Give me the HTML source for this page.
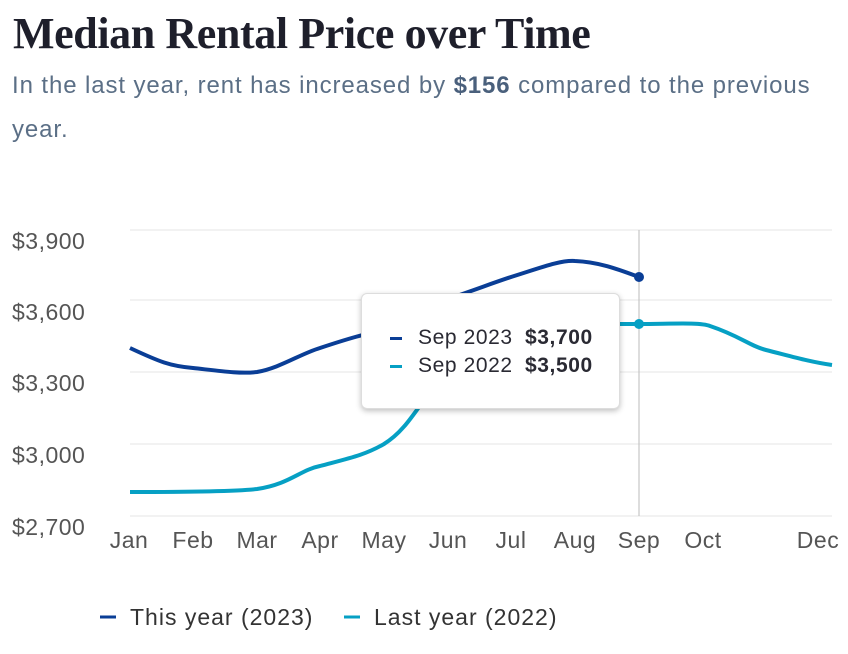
<!DOCTYPE html>
<html><head><style>
body{margin:0;background:#fff;width:848px;height:654px;overflow:hidden;font-family:"Liberation Sans",sans-serif;position:relative}
h1{position:absolute;left:13px;top:8px;margin:0;font-family:"Liberation Serif",serif;font-weight:bold;font-size:44px;color:#1e1f2b;letter-spacing:-0.4px}
.sub{position:absolute;left:12px;top:64px;font-size:24px;line-height:44px;color:#5b6f86;letter-spacing:0.9px;white-space:nowrap}
.sub b{color:#4a607c}
.tip{position:absolute;left:361px;top:293px;width:257px;height:114px;background:#fff;border:1px solid #ddd;border-radius:6px;box-shadow:0 2px 6px rgba(0,0,0,.25);font-size:21px;color:#2a2a33;letter-spacing:0.6px}
.row{position:absolute;left:28px;display:flex;align-items:center}
.row i{display:inline-block;width:12px;height:3px;margin-right:16px}
.row span{width:107px}
</style></head><body>
<h1>Median Rental Price over Time</h1>
<div class="sub">In the last year, rent has increased by <b>$156</b> compared to the previous<br>year.</div>
<svg width="848" height="654" style="position:absolute;left:0;top:0">
<g stroke="#e6e6e6" stroke-width="1">
<line x1="130" x2="832" y1="230" y2="230"/><line x1="130" x2="832" y1="300" y2="300"/><line x1="130" x2="832" y1="372" y2="372"/><line x1="130" x2="832" y1="444" y2="444"/><line x1="130" x2="832" y1="516" y2="516"/>
</g>
<line x1="639" x2="639" y1="230" y2="516" stroke="#bbb"/>
<g font-size="23" fill="#555" font-family="Liberation Sans,sans-serif" letter-spacing="0.5">
<text x="12" y="249">$3,900</text><text x="12" y="320">$3,600</text><text x="12" y="391">$3,300</text><text x="12" y="463">$3,000</text><text x="12" y="535">$2,700</text>
<g text-anchor="middle"><text x="129" y="548">Jan</text><text x="193" y="548">Feb</text><text x="257" y="548">Mar</text><text x="320" y="548">Apr</text><text x="384" y="548">May</text><text x="448" y="548">Jun</text><text x="511" y="548">Jul</text><text x="575" y="548">Aug</text><text x="639" y="548">Sep</text><text x="703" y="548">Oct</text><text x="818" y="548">Dec</text></g>
</g>
<path d="M130,492 C160,492 230,492 257,489 C290,484 300,470 320,466 C350,458 365,455 384,444 C410,428 420,400 448,370 C480,340 520,326 575,324 L639,324 C670,324 700,322 710,326 C740,336 750,346 766,350 C790,356 810,362 832,365" fill="none" stroke="#06a0c4" stroke-width="4"/>
<path d="M130,348 C160,362 170,366 193,368 C220,371 240,374 257,372 C280,368 300,354 320,348 C350,338 365,334 384,330 C410,320 430,305 448,299 C480,288 490,284 511,277 C540,268 560,260 575,261 C600,262 620,270 639,277" fill="none" stroke="#0a3e96" stroke-width="4"/>
<circle cx="639" cy="277" r="5" fill="#0a3e96"/><circle cx="639" cy="324" r="5" fill="#06a0c4"/>
<line x1="100" x2="116" y1="617" y2="617" stroke="#0a3e96" stroke-width="3"/>
<line x1="344" x2="360" y1="617" y2="617" stroke="#06a0c4" stroke-width="3"/>
<g font-size="23" fill="#333" letter-spacing="1"><text x="130" y="625">This year (2023)</text><text x="374" y="625">Last year (2022)</text></g>
</svg>
<div class="tip">
<div class="row" style="top:32px"><i style="background:#0a3e96"></i><span>Sep 2023</span><b>$3,700</b></div>
<div class="row" style="top:60px"><i style="background:#06a0c4"></i><span>Sep 2022</span><b>$3,500</b></div>
</div>
</body></html>
